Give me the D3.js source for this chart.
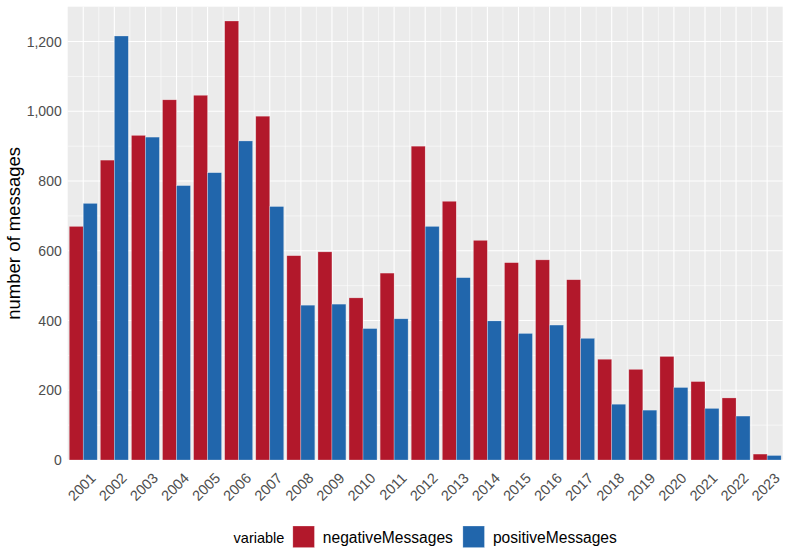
<!DOCTYPE html>
<html>
<head>
<meta charset="utf-8">
<script src="https://cdn.jsdelivr.net/npm/d3@7"></script>
<style>
  body { margin: 0; background: #fff; }
  text { font-family: "Liberation Sans", Arial, sans-serif; }
</style>
</head>
<body>
<script>
// values
let years = [2001, 2002, 2003, 2004, 2005, 2006, 2007, 2008, 2009, 2010, 2011, 2012,
             2013, 2014, 2015, 2016, 2017, 2018, 2019, 2020, 2021, 2022, 2023];
let negativeMessages = [670, 860, 931, 1033, 1046, 1259, 986, 586, 597, 465, 536, 900,
                        742, 630, 566, 574, 517, 289, 260, 297, 225, 178, 17];
let positiveMessages = [736, 1216, 926, 787, 824, 915, 727, 444, 447, 377, 405, 670,
                        523, 399, 363, 387, 349, 160, 143, 208, 148, 126, 13];
let seriesNames = ["negativeMessages", "positiveMessages"];
let seriesColors = ["#B2182B", "#2166AC"];
let yTicks = [0, 200, 400, 600, 800, 1000, 1200];
let yMinor = [100, 300, 500, 700, 900, 1100];

var W = 789, H = 556;
var margin = {top: 6.7, right: 6.3, bottom: 96, left: 67.7},
    width = W - margin.left - margin.right,
    height = H - margin.top - margin.bottom;

var svg = d3.select("body").append("svg")
  .attr("width", W)
  .attr("height", H);

var g = svg.append("g")
  .attr("transform", "translate(" + margin.left + "," + margin.top + ")");

var xScale = d3.scaleLinear().domain([2000.5, 2023.5]).range([0, width]);
var yScale = d3.scaleLinear().domain([0, 1300]).range([height, 0]);

// panel
g.append("rect")
  .attr("width", width)
  .attr("height", height)
  .attr("fill", "#EBEBEB");

// minor grid
g.selectAll(".ymin").data(yMinor).enter().append("line")
  .attr("x1", 0).attr("x2", width)
  .attr("y1", function(d) { return yScale(d); })
  .attr("y2", function(d) { return yScale(d); })
  .attr("stroke", "#fff").attr("stroke-width", 0.55);
g.selectAll(".xmin").data(years.slice(0, -1)).enter().append("line")
  .attr("y1", 0).attr("y2", height)
  .attr("x1", function(d) { return xScale(d + 0.5); })
  .attr("x2", function(d) { return xScale(d + 0.5); })
  .attr("stroke", "#fff").attr("stroke-width", 0.55);

// major grid
g.selectAll(".ymaj").data(yTicks).enter().append("line")
  .attr("x1", 0).attr("x2", width)
  .attr("y1", function(d) { return yScale(d); })
  .attr("y2", function(d) { return yScale(d); })
  .attr("stroke", "#fff").attr("stroke-width", 1.1);
g.selectAll(".xmaj").data(years).enter().append("line")
  .attr("y1", 0).attr("y2", height)
  .attr("x1", function(d) { return xScale(d); })
  .attr("x2", function(d) { return xScale(d); })
  .attr("stroke", "#fff").attr("stroke-width", 1.1);

// bars (dodged, width 0.9)
var barData = [];
years.forEach(function(yr, i) {
  barData.push({year: yr, value: negativeMessages[i], s: 0});
  barData.push({year: yr, value: positiveMessages[i], s: 1});
});
var half = 0.45;

g.selectAll(".bar").data(barData).enter().append("rect")
  .attr("x", function(d) { return xScale(d.year - half + d.s * half); })
  .attr("width", xScale(2001 + half) - xScale(2001))
  .attr("y", function(d) { return yScale(d.value); })
  .attr("height", function(d) { return height - yScale(d.value); })
  .attr("fill", function(d) { return seriesColors[d.s]; })
  .attr("stroke", "rgba(255,255,255,0.45)")
  .attr("stroke-width", 0.6);

// y axis labels
var yAxis = d3.axisLeft(yScale).tickValues(yTicks).tickSize(0).tickPadding(6)
  .tickFormat(d3.format(","));
var ya = g.append("g").call(yAxis);
ya.select(".domain").remove();
ya.selectAll("text")
  .attr("fill", "#4D4D4D")
  .attr("font-size", "14px")
  .attr("font-family", "Liberation Sans, Arial, sans-serif");

// x axis labels
var xAxis = d3.axisBottom(xScale).tickValues(years).tickSize(0).tickFormat(d3.format("d"));
var xa = g.append("g")
  .attr("transform", "translate(0," + height + ")")
  .call(xAxis);
xa.select(".domain").remove();
xa.selectAll("text")
  .attr("fill", "#4D4D4D")
  .attr("font-size", "14.5px")
  .attr("font-family", "Liberation Sans, Arial, sans-serif")
  .attr("y", 0)
  .attr("dy", 0)
  .attr("transform", "translate(13,19) rotate(-45)")
  .style("text-anchor", "end");

// y axis title
svg.append("text")
  .text("number of messages")
  .attr("transform", "translate(20," + (margin.top + height / 2) + ") rotate(-90)")
  .attr("text-anchor", "middle")
  .attr("font-size", "18.5px")
  .attr("fill", "#000");

// legend
var leg = svg.append("g");
var ly = 542.5, keySize = 21.6, keyTop = 526;
var title = leg.append("text").text("variable")
  .attr("x", 0).attr("y", ly)
  .attr("font-size", "14.5px").attr("fill", "#000");
var cx = title.node().getComputedTextLength() + 8.5;
seriesNames.forEach(function(name, i) {
  leg.append("rect")
    .attr("x", cx).attr("y", keyTop)
    .attr("width", keySize).attr("height", keySize)
    .attr("fill", seriesColors[i])
    .attr("stroke", "rgba(255,255,255,0.45)")
    .attr("stroke-width", 0.6);
  cx += keySize + 8.4;
  var t = leg.append("text").text(name)
    .attr("x", cx).attr("y", ly)
    .attr("font-size", "15.6px").attr("fill", "#000");
  cx += t.node().getComputedTextLength() + 10;
});
cx -= 10;
leg.attr("transform", "translate(" + (margin.left + width / 2 - cx / 2) + ",0)");
</script>
</body>
</html>
